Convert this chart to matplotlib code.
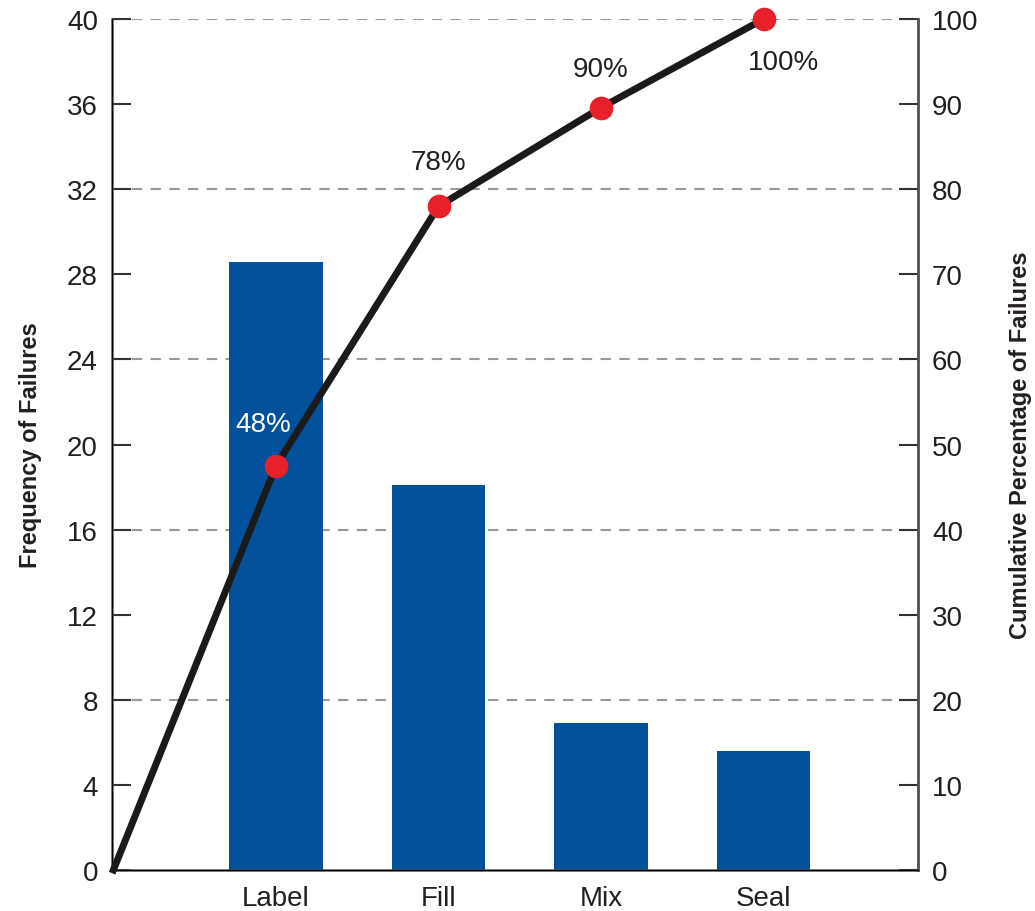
import matplotlib.pyplot as plt
from matplotlib import font_manager

# Pareto chart of failure causes
categories = ['Label', 'Fill', 'Mix', 'Seal']
frequency = [28.6, 18.1, 6.9, 5.6]
cum_x = [0, 1, 2, 3, 4]
cum_pct = [0, 47.5, 78, 89.6, 100]
pct_labels = ['48%', '78%', '90%', '100%']
left_ticks = list(range(0, 41, 4))
right_ticks = list(range(0, 101, 10))
grid_levels = [8, 16, 24, 32, 40]

names = {f.name for f in font_manager.fontManager.ttflist}
fam = ['Liberation Sans Narrow', 'DejaVu Sans'] if 'Liberation Sans Narrow' in names else ['Liberation Sans', 'DejaVu Sans']
plt.rcParams['font.family'] = fam

txt = '#231f20'
fig = plt.figure(figsize=(10.35, 9.12), dpi=100)
ax = fig.add_axes([0.108, 0.045, 0.779, 0.933])

ax.hlines(grid_levels, 0, 5, colors='#999999', linestyles=(0, (5, 4)), linewidth=1.5, zorder=0)
ax.bar(range(1, 5), frequency, width=0.575, color='#02529b', zorder=2)

ax.set_xlim(-0.01, 4.95)
ax.set_ylim(0, 40)
ax.set_yticks(left_ticks)
ax.set_xticks(range(1, 5))
ax.set_xticklabels(categories)
ax.tick_params(axis='y', direction='in', length=14, width=1.5, colors='#333333',
               labelcolor=txt, labelsize=20, pad=10)
ax.tick_params(axis='x', length=0, labelsize=20, labelcolor=txt, pad=11)
ax.spines['top'].set_visible(False)
for s in ['left', 'right', 'bottom']:
    ax.spines[s].set_color('#555555')
    ax.spines[s].set_linewidth(1.8)
ax.set_ylabel('Frequency of Failures', fontsize=17, fontweight='bold', color=txt, labelpad=18)

ax2 = ax.twinx()
ax2.set_ylim(0, 100)
ax2.set_yticks(right_ticks)
ax2.tick_params(axis='y', direction='in', length=14, width=1.5, colors='#333333',
                labelcolor=txt, labelsize=20, pad=10)
ax2.spines['top'].set_visible(False)
ax2.spines['right'].set_color('#555555')
ax2.spines['right'].set_linewidth(1.8)
ax2.set_ylabel('Cumulative Percentage of Failures', fontsize=17, fontweight='bold',
               color=txt, labelpad=22)

ax2.plot(cum_x, cum_pct, color='#1a1a1a', linewidth=5, zorder=3, clip_on=False)
ax2.plot(cum_x[1:], cum_pct[1:], 'o', color='#e8202a', markersize=16, zorder=4, clip_on=False)

# percentage labels
offsets = [(-0.08, 4.9), (0, 5.2), (0, 4.5), (0.12, -5.0)]
for i, lab in enumerate(pct_labels):
    dx, dy = offsets[i]
    ax2.text(cum_x[i + 1] + dx, cum_pct[i + 1] + dy, lab, ha='center', va='center',
             fontsize=20, color='white' if i == 0 else txt, zorder=5)

plt.savefig('out.png', dpi=100)
